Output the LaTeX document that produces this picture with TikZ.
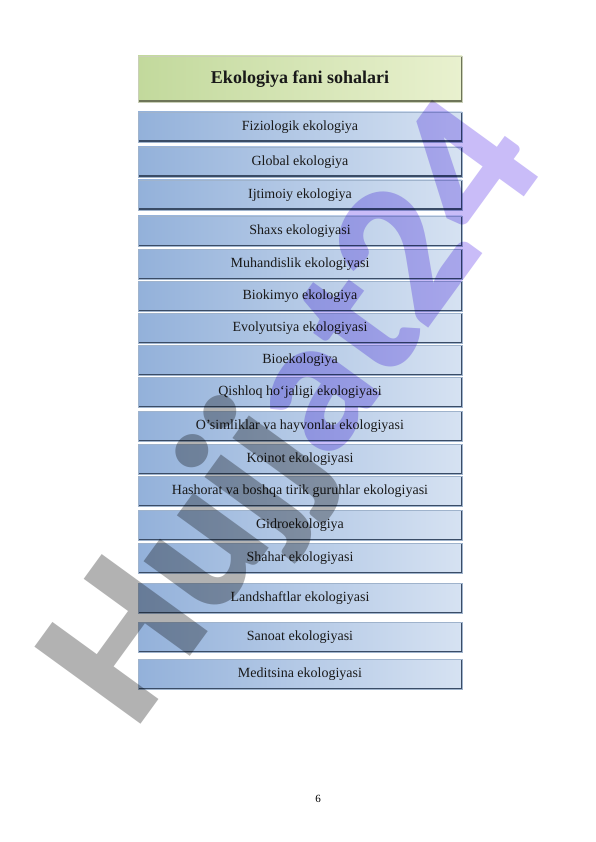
\documentclass[tikz,border=0pt]{standalone}
\usepackage{fontspec}
\setmainfont{Liberation Serif}
\newfontfamily\wmfont{Lato Black}
\usetikzlibrary{shadings}

\definecolor{boxleft}{HTML}{93B1DA}
\definecolor{boxright}{HTML}{D6E2F2}
\definecolor{boxedge}{HTML}{9FB3CC}
\definecolor{boxshadow}{HTML}{3A4C66}
\definecolor{titleleft}{HTML}{C2D99C}
\definecolor{titleright}{HTML}{E9F1CF}
\definecolor{titleshadow}{HTML}{6E7558}
\definecolor{wmgray}{HTML}{B2B2B2}
\definecolor{wmviolet}{HTML}{C9BCF8}

\tikzset{
	soha/.style={minimum width=324pt, minimum height=30pt, inner sep=0pt,
		left color=boxleft, right color=boxright, draw=boxedge, line width=0.4pt,
		text=black!90, font=\fontsize{14}{16}\selectfont,
		path picture={\draw[line width=3pt, boxshadow]
			(path picture bounding box.south west) -- (path picture bounding box.south east)
			-- (path picture bounding box.north east);}},
	sarlavha/.style={soha, minimum height=46pt, left color=titleleft, right color=titleright,
		draw=titleright!70!gray, font=\bfseries\fontsize{18}{20}\selectfont,
		path picture={\draw[line width=3pt, titleshadow]
			(path picture bounding box.south west) -- (path picture bounding box.south east)
			-- (path picture bounding box.north east);}}
}

\begin{document}
\begin{tikzpicture}[x=1pt, y=-1pt]
	
	% sahifa
	\fill[white] (0,0) rectangle (596,842);
	\useasboundingbox (0,0) rectangle (596,842);
	
	% sarlavha
	\node[sarlavha] (title) at (300,79) {Ekologiya fani sohalari};
	
	% sohalar
	\node[soha] (s1) at (300,127) {Fiziologik ekologiya};
	\node[soha] (s2) at (300,162) {Global ekologiya};
	\node[soha] (s3) at (300,195) {Ijtimoiy ekologiya};
	\node[soha] (s4) at (300,231) {Shaxs ekologiyasi};
	\node[soha] (s5) at (300,264) {Muhandislik ekologiyasi};
	\node[soha] (s6) at (300,296) {Biokimyo ekologiya};
	\node[soha] (s7) at (300,328) {Evolyutsiya ekologiyasi};
	\node[soha] (s8) at (300,360) {Bioekologiya};
	\node[soha] (s9) at (300,392) {Qishloq ho‘jaligi ekologiyasi};
	\node[soha] (s10) at (300,426) {O’simliklar va hayvonlar ekologiyasi};
	\node[soha] (s11) at (300,459) {Koinot ekologiyasi};
	\node[soha] (s12) at (300,491) {Hashorat va boshqa tirik guruhlar ekologiyasi};
	\node[soha] (s13) at (300,525) {Gidroekologiya};
	\node[soha] (s14) at (300,558) {Shahar ekologiyasi};
	\node[soha] (s15) at (300,598) {Landshaftlar ekologiyasi};
	\node[soha] (s16) at (300,637) {Sanoat ekologiyasi};
	\node[soha] (s17) at (300,674) {Meditsina ekologiyasi};
	
	% sahifa raqami
	\node[font=\fontsize{11}{13}\selectfont] (page) at (318,799) {6};
	
	% suv belgisi
	\begin{scope}[blend mode=multiply]
	\node[rotate=54, anchor=base west, inner sep=0pt, font=\wmfont\fontsize{180}{180}\selectfont]
		(wm) at (133,735) {\textcolor{wmgray}{Hujj}\textcolor{wmviolet}{at24}};
	\end{scope}
	
\end{tikzpicture}
\end{document}
